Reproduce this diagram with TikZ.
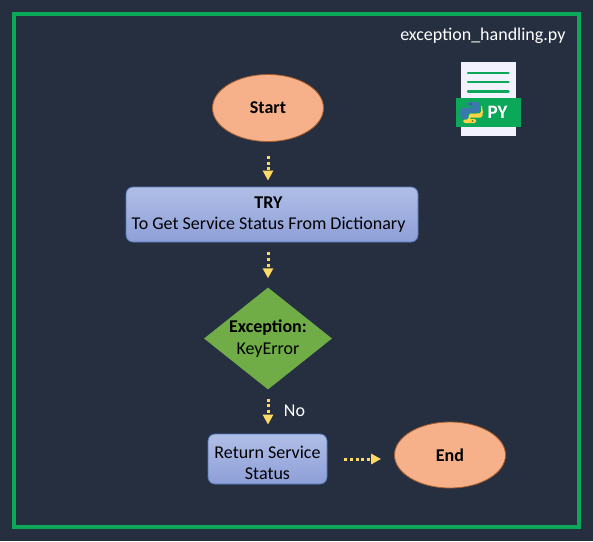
\documentclass[tikz,border=0pt]{standalone}
\usepackage{fontspec}
\setmainfont{Carlito}
\usetikzlibrary{arrows.meta,shapes.geometric}
\definecolor{fond}{HTML}{262F40}
\definecolor{cadre}{HTML}{0CA85A}
\definecolor{saumon}{HTML}{F6B18A}
\definecolor{saumonbord}{HTML}{A85F2E}
\definecolor{vert}{HTML}{70AD47}
\definecolor{bleuhaut}{HTML}{B0BEE6}
\definecolor{bleubas}{HTML}{8E9FD8}
\definecolor{bleubord}{HTML}{5578B8}
\definecolor{jaune}{HTML}{FFD966}
\definecolor{feuillevert}{HTML}{0CA85A}
\definecolor{pybleu}{HTML}{3B78AE}
\definecolor{pyjaune}{HTML}{FFD343}
\begin{document}
\begin{tikzpicture}[x=1pt,y=-1pt,every node/.style={font=\fontsize{18}{21.5}\selectfont,text=black}]
	\tikzstyle{fleche}=[-{Triangle[length=10pt,width=10pt]},jaune,line width=3pt,dash pattern=on 3pt off 2.6pt]
	\tikzstyle{debutfin}=[ellipse,draw=saumonbord,line width=0.8pt,fill=saumon,inner sep=0pt,font=\fontsize{18}{21.5}\selectfont\bfseries]
	\tikzstyle{boite}=[rectangle,rounded corners=7pt,draw=bleubord,line width=0.8pt,top color=bleuhaut,bottom color=bleubas,inner sep=0pt,align=center]
	\tikzstyle{losange}=[diamond,fill=vert,inner sep=0pt]
	\tikzstyle{clair}=[text=white]
	\tikzstyle{trait}=[feuillevert,line width=2.4pt,line cap=round]

	\useasboundingbox (0,0) rectangle (593,541);
	\fill[fond] (0,0) rectangle (593,541);
	\node[draw=cadre,line width=3.6pt,minimum width=565pt,minimum height=513pt,inner sep=0pt] (cadre) at (296.5,270.5) {};
	\node[clair,anchor=east] (fichier) at (569,35.5) {exception\_handling.py};

	\node[debutfin,minimum width=111pt,minimum height=67pt] (start) at (268,108) {Start};
	\node[boite,minimum width=292pt,minimum height=55pt] (try) at (272,214.5) {\textbf{TRY}\kern7pt\\To Get Service Status From Dictionary\kern7pt};
	\node[losange,minimum width=128pt,minimum height=102pt,label={[align=center]center:{\textbf{Exception:}\\KeyError}}] (exception) at (268,338.5) {};
	\node[boite,minimum width=119pt,minimum height=50pt,label={[align=center,yshift=-4pt]center:{Return Service\\Status}}] (return) at (267.5,459) {};
	\node[debutfin,minimum width=111pt,minimum height=66pt] (end) at (450,455) {End};
	\node[clair] (no) at (294.5,411) {No};

	\draw[fleche,shorten <=14pt,shorten >=6pt] (start) -- (start |- try.north);
	\draw[fleche,shorten <=10pt,shorten >=9pt] (start |- try.south) -- (exception.north);
	\draw[fleche,shorten <=9pt,shorten >=9pt] (exception.south) -- (exception.south |- return.north);
	\draw[fleche,shorten <=17pt,shorten >=13pt] (return.east) -- (return.east -| end.west);

	% icone du fichier
	\node[fill=white!95!blue,minimum width=55pt,minimum height=74pt,inner sep=0pt] (page) at (488.5,99) {};
	\draw[trait] (468,73) -- (508.5,73);
	\draw[trait] (468,82) -- (508.5,82);
	\draw[trait] (468,91.5) -- (508.5,91.5);
	\node[fill=feuillevert,minimum width=65.5pt,minimum height=29pt,inner sep=0pt] (bande) at (488.5,112.5) {};
	\node[clair,font=\fontsize{19}{20}\selectfont\bfseries] (py) at (497.5,112.5) {PY};
	\fill[pybleu,rounded corners=1.5pt] (467,102) -- (479.5,102) -- (480,112.5) -- (468,113) -- (467.5,119) -- (461,119) -- (460,112) -- (461,107.5) -- (474,107.5) -- (474,106) -- (467,106) -- cycle;
	\fill[pyjaune,rounded corners=1.5pt] (476,123) -- (463.5,123) -- (463,119.5) -- (468.5,119.5) -- (469,113.8) -- (481,113.3) -- (481,106) -- (482,106) -- (483,113) -- (482,117.5) -- (469,117.5) -- (469,119) -- (476,119) -- cycle;
	\fill[fond!60!pybleu] (470.5,104) circle (1pt);
	\fill[fond!60!pyjaune] (472.5,121) circle (1pt);
\end{tikzpicture}
\end{document}
